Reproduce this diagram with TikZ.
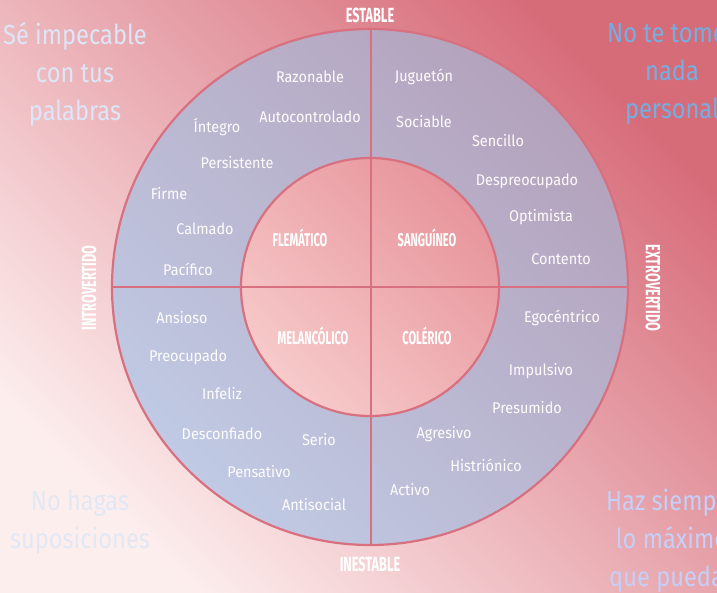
\documentclass[tikz,border=0pt]{standalone}
\usepackage{fontspec}
\setmainfont{Fira Sans}
\newfontfamily\wordfont{Fira Sans}[FakeStretch=0.93]
\newfontfamily\mottofont{Fira Sans}[FakeStretch=0.86]
\newfontfamily\capfont{Fira Sans}[FakeStretch=0.6]
\newfontfamily\axisfont{Fira Sans}[FakeStretch=0.62]
\begin{document}
\begin{tikzpicture}[x=1pt,y=-1pt,
  word/.style={text=white!96!pink, font=\wordfont\fontsize{15.5}{17}\selectfont, inner sep=0pt},
  temper/.style={text=white, font=\capfont\bfseries\fontsize{18.5}{20}\selectfont, inner sep=0pt},
  axislabel/.style={text=white, font=\axisfont\bfseries\fontsize{20.5}{22}\selectfont, inner sep=0pt},
  motto/.style={font=\mottofont\fontsize{27.5}{38}\selectfont, align=center, inner sep=0pt},
  ring/.style={draw=ringline, line width=2.2pt}]
\definecolor{bgdark}{HTML}{D76C79}
\definecolor{bglight}{HTML}{FDEEEE}
\definecolor{outerA}{HTML}{B4A2BC}
\definecolor{outerB}{HTML}{C0CAE4}
\definecolor{innerA}{HTML}{E7959C}
\definecolor{innerB}{HTML}{F7CACA}
\definecolor{ringline}{HTML}{D8707F}
\definecolor{mottopale}{HTML}{DCE6F6}
\definecolor{mottoblue}{HTML}{74AEE2}

% page background
\useasboundingbox (0,0) rectangle (717,593);
\shade[top color=bgdark, bottom color=bglight, shading angle=-45] (0,0) rectangle (717,593);

% corner mottos
\node[motto, text=mottopale] (m1) at (75,74) {Sé impecable\\con tus\\palabras};
\node[motto, text=mottoblue] (m2) at (672,74) {No te tomes\\nada\\personal};
\node[motto, text=mottopale, opacity=0.8] (m3) at (80,522) {No hagas\\suposiciones};
\node[motto, text=mottopale!90!blue] (m4) at (672,541) {Haz siempre\\lo máximo\\que puedas};

% outer ring and inner circle
\coordinate (c) at (370,287);
\shade[top color=outerA, bottom color=outerB, shading angle=-45] (c) circle[radius=258];
\shade[top color=innerA, bottom color=innerB, shading angle=-45] (c) circle[radius=129];
\draw[ring] (c) circle[radius=258];
\draw[ring] (c) circle[radius=129];
\coordinate (top) at (371,29);
\coordinate (bot) at (371,545);
\coordinate (lft) at (112,287);
\coordinate (rgt) at (628,287);
\draw[ring] (top) -- (bot);
\draw[ring] (lft) -- (rgt);

% axis labels
\node[axislabel] (est) at (370,15) {ESTABLE};
\node[axislabel] (ines) at (370,564) {INESTABLE};
\node[axislabel, rotate=90] (intro) at (89,288) {INTROVERTIDO};
\node[axislabel, rotate=-90] (extro) at (653,288) {EXTROVERTIDO};

% temperaments
\node[temper] (fle) at (300,238) {FLEMÁTICO};
\node[temper] (san) at (427,238) {SANGUÍNEO};
\node[temper] (mel) at (313,336) {MELANCÓLICO};
\node[temper] (col) at (427,336) {COLÉRICO};

% traits: stable introvert
\node[word] (w1) at (310,77) {Razonable};
\node[word] (w2) at (310,117) {Autocontrolado};
\node[word] (w3) at (217,127) {Íntegro};
\node[word] (w4) at (237,163) {Persistente};
\node[word] (w5) at (169,194) {Firme};
\node[word] (w6) at (205,229) {Calmado};
\node[word] (w7) at (188,269) {Pacífico};
% stable extrovert
\node[word] (w8) at (424,77) {Juguetón};
\node[word] (w9) at (424,122) {Sociable};
\node[word] (w10) at (498,141) {Sencillo};
\node[word] (w11) at (527,181) {Despreocupado};
\node[word] (w12) at (541,217) {Optimista};
\node[word] (w13) at (561,259) {Contento};
% unstable introvert
\node[word] (w14) at (182,318) {Ansioso};
\node[word] (w15) at (188,357) {Preocupado};
\node[word] (w16) at (222,394) {Infeliz};
\node[word] (w17) at (222,434) {Desconfiado};
\node[word] (w18) at (319,440) {Serio};
\node[word] (w19) at (259,472) {Pensativo};
\node[word] (w20) at (314,505) {Antisocial};
% unstable extrovert
\node[word] (w21) at (562,318) {Egocéntrico};
\node[word] (w22) at (541,371) {Impulsivo};
\node[word] (w23) at (527,408) {Presumido};
\node[word] (w24) at (444,434) {Agresivo};
\node[word] (w25) at (486,465) {Histriónico};
\node[word] (w26) at (410,490) {Activo};
\end{tikzpicture}
\end{document}
